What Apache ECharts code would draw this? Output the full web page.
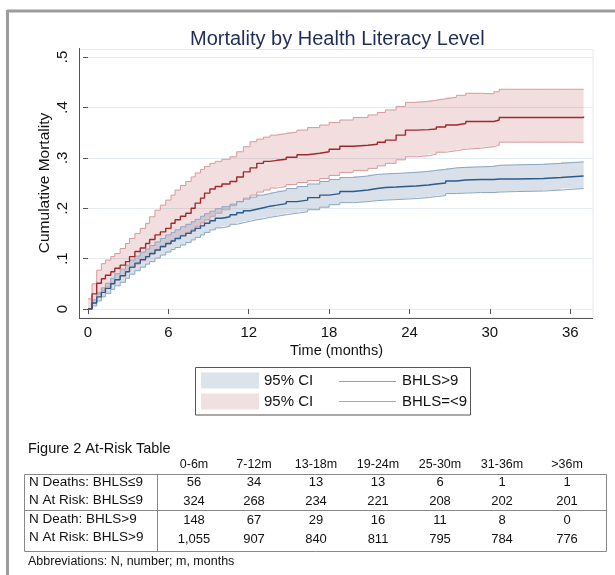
<!DOCTYPE html>
<html><head><meta charset="utf-8">
<script src="https://cdn.jsdelivr.net/npm/echarts@6/dist/echarts.min.js"></script>
<style>html,body{margin:0;padding:0;background:#fff}#c{width:615px;height:575px}</style>
</head><body><div id="c"></div>
<script>
// ---- data ----
const months = [0,0.3,0.65,1.0,1.3,1.7,2.0,2.4,2.8,3.1,3.5,3.9,4.3,4.6,5.0,5.4,5.8,6.2,6.5,6.9,7.3,7.7,8.0,8.4,8.7,9.1,9.5,10.0,10.6,11.1,11.6,12.1,12.6,13.1,13.6,14.1,14.8,15.6,16.4,17.3,18.0,18.8,19.8,20.9,21.6,22.2,23.0,23.7,24.5,25.4,26.0,26.7,27.5,28.2,29.3,30.3,30.7,32.0,34.0,35.3,37.0];
// BHLS=<9 (low literacy)
const lowEst   = [0,0.030,0.051,0.060,0.067,0.074,0.081,0.087,0.094,0.104,0.114,0.121,0.130,0.138,0.147,0.153,0.160,0.170,0.177,0.184,0.190,0.200,0.210,0.220,0.230,0.238,0.243,0.248,0.253,0.262,0.272,0.280,0.289,0.293,0.295,0.297,0.301,0.306,0.309,0.312,0.317,0.323,0.325,0.327,0.331,0.335,0.345,0.355,0.356,0.357,0.361,0.365,0.368,0.372,0.372,0.375,0.380,0.380,0.380,0.380,0.382];
const lowUpper = [0.020,0.050,0.077,0.090,0.097,0.104,0.110,0.120,0.130,0.140,0.150,0.160,0.170,0.183,0.196,0.206,0.216,0.226,0.236,0.245,0.253,0.262,0.270,0.277,0.283,0.289,0.293,0.297,0.302,0.312,0.322,0.332,0.337,0.341,0.345,0.348,0.351,0.355,0.360,0.365,0.370,0.375,0.380,0.385,0.390,0.395,0.402,0.410,0.412,0.414,0.417,0.420,0.424,0.428,0.427,0.431,0.436,0.436,0.436,0.436,0.436];
const lowLower = [0,0.012,0.028,0.037,0.044,0.051,0.058,0.066,0.074,0.082,0.089,0.096,0.103,0.109,0.116,0.123,0.129,0.135,0.140,0.146,0.152,0.158,0.164,0.171,0.177,0.184,0.190,0.197,0.205,0.213,0.220,0.226,0.232,0.236,0.240,0.243,0.247,0.251,0.255,0.259,0.265,0.271,0.275,0.279,0.284,0.289,0.296,0.302,0.304,0.307,0.311,0.314,0.317,0.319,0.322,0.325,0.331,0.331,0.331,0.331,0.331];
// BHLS>9 (adequate literacy)
const highEst   = [0,0.012,0.024,0.033,0.041,0.050,0.058,0.066,0.074,0.083,0.091,0.098,0.104,0.110,0.117,0.124,0.130,0.135,0.140,0.145,0.150,0.155,0.160,0.165,0.170,0.175,0.180,0.183,0.187,0.191,0.195,0.198,0.201,0.204,0.206,0.209,0.213,0.216,0.221,0.226,0.229,0.233,0.236,0.239,0.241,0.242,0.243,0.244,0.246,0.248,0.250,0.254,0.256,0.257,0.257,0.258,0.258,0.259,0.261,0.264,0.264];
const highUpper = [0,0.018,0.032,0.042,0.051,0.061,0.070,0.079,0.087,0.097,0.105,0.113,0.119,0.126,0.133,0.140,0.147,0.152,0.157,0.163,0.168,0.173,0.178,0.184,0.189,0.194,0.199,0.203,0.208,0.213,0.218,0.222,0.226,0.229,0.232,0.235,0.239,0.243,0.248,0.253,0.257,0.261,0.264,0.267,0.268,0.269,0.270,0.271,0.273,0.275,0.277,0.280,0.281,0.282,0.283,0.285,0.286,0.287,0.289,0.292,0.292];
const highLower = [0,0.006,0.016,0.024,0.031,0.039,0.046,0.053,0.061,0.069,0.076,0.083,0.089,0.094,0.101,0.107,0.113,0.118,0.122,0.127,0.132,0.137,0.142,0.147,0.152,0.157,0.161,0.164,0.168,0.171,0.174,0.177,0.179,0.182,0.184,0.187,0.190,0.193,0.197,0.202,0.207,0.211,0.213,0.215,0.216,0.217,0.218,0.219,0.221,0.223,0.225,0.229,0.230,0.231,0.231,0.232,0.233,0.234,0.236,0.239,0.239];
const xTicks = [0,6,12,18,24,30,36];
// at-risk table
const periods    = ['0-6m','7-12m','13-18m','19-24m','25-30m','31-36m','>36m'];
const rowLabels  = ['N Deaths: BHLS\u22649','N At Risk: BHLS\u22649','N Death: BHLS>9','N At Risk: BHLS>9'];
const deathsLow  = [56,34,13,13,6,1,1];
const atRiskLow  = [324,268,234,221,208,202,201];
const deathsHigh = [148,67,29,16,11,8,0];
const atRiskHigh = [1055,907,840,811,795,784,776];

// ---- styles ----
const FONT = 'Liberation Sans, Arial, Helvetica, sans-serif';
const C = {
  blueLine:'#2c5a8a', blueEdge:'#8ba6c2', blueFill:'rgba(120,145,175,0.28)', blueLegendFill:'#dce3eb', blueLegendLine:'#86a2c0',
  redLine:'#a3282d', redEdge:'#d79a9d', redFill:'rgba(190,90,95,0.20)', redLegendFill:'#f1e0e1', redLegendLine:'#d8979a'
};
const pts = arr => months.map((m,i)=>[m, arr[i]]);

function bandSeries(name, lo, hi, fill, z){
  return {
    type:'custom', name: name, z: z, silent:true,
    itemStyle:{color: fill},
    data: months.map((m,i)=>[m, lo[i], hi[i]]),
    encode:{x:0, y:[1,2]},
    renderItem: function(params, api){
      if (params.dataIndex !== 0) return null;
      const up = [], dn = [];
      for (let i=0;i<months.length;i++){
        const xa = months[i], xb = (i+1<months.length)? months[i+1] : months[i];
        up.push(api.coord([xa, hi[i]])); up.push(api.coord([xb, hi[i]]));
        dn.push(api.coord([xa, lo[i]])); dn.push(api.coord([xb, lo[i]]));
      }
      const poly = up.concat(dn.reverse());
      return {type:'polygon', shape:{points: poly}, style:{fill: fill, stroke:null}};
    }
  };
}
function lineSeries(name, arr, color, width, z){
  return {type:'line', name:name, data: pts(arr), step:'end', showSymbol:false, symbol:'none',
    lineStyle:{color:color, width:width}, itemStyle:{color:color}, z:z, silent:true};
}

const series = [
  bandSeries('ciRed', lowLower, lowUpper, C.redFill, 1),
  bandSeries('ciBlue', highLower, highUpper, C.blueFill, 2),
  lineSeries('lowUpper', lowUpper, C.redEdge, 1, 3),
  lineSeries('lowLower', lowLower, C.redEdge, 1, 3),
  lineSeries('highUpper', highUpper, C.blueEdge, 1, 3),
  lineSeries('highLower', highLower, C.blueEdge, 1, 3),
  lineSeries('BHLS=<9', lowEst, C.redLine, 1.4, 4),
  lineSeries('BHLS>9', highEst, C.blueLine, 1.4, 4)
];

// ---- frame + legend box + table graphics ----
const HF = '14.5px ' + FONT;   // table heading
const CF = '12.5px ' + FONT;   // column headers
const LF = '13.5px ' + FONT;   // row labels
const VF = '13px ' + FONT;     // values
const AF = '12.5px ' + FONT;   // footnote
const colX = [194,254,316,378,440,502,567];
const g = [];
g.push({type:'line', shape:{x1:7,y1:11,x2:615,y2:11}, style:{stroke:'#9c9c9c', lineWidth:3}});
g.push({type:'line', shape:{x1:7.5,y1:10,x2:7.5,y2:575}, style:{stroke:'#9c9c9c', lineWidth:3}});
g.push({type:'rect', shape:{x:79.5,y:49.5,width:513.5,height:268.5}, style:{fill:'none', stroke:'#e2eaef', lineWidth:1}, z:-1});
g.push({type:'line', shape:{x1:79.5,y1:48,x2:79.5,y2:318.5}, style:{stroke:'#555', lineWidth:1}, z:10});
g.push({type:'line', shape:{x1:79,y1:318.5,x2:593,y2:318.5}, style:{stroke:'#555', lineWidth:1}, z:10});
g.push({type:'rect', shape:{x:195.5,y:367.5,width:275,height:47.5}, style:{fill:'none', stroke:'#555', lineWidth:1}});
g.push({type:'line', shape:{x1:339,y1:381.5,x2:396,y2:381.5}, style:{stroke:C.blueLegendLine, lineWidth:1}});
g.push({type:'line', shape:{x1:339,y1:401.5,x2:396,y2:401.5}, style:{stroke:C.redLegendLine, lineWidth:1}});
g.push({type:'text', x:28, y:449, style:{text:'Figure 2 At-Risk Table', font:HF, fill:'#111', verticalAlign:'middle'}});
periods.forEach((p,i)=>g.push({type:'text', x:colX[i], y:465, style:{text:p, font:CF, fill:'#111', align:'center', verticalAlign:'middle'}}));
g.push({type:'rect', shape:{x:24.5,y:474.5,width:582,height:77}, style:{fill:'none', stroke:'#888', lineWidth:1}});
g.push({type:'line', shape:{x1:24.5,y1:510.5,x2:606.5,y2:510.5}, style:{stroke:'#888', lineWidth:1}});
g.push({type:'line', shape:{x1:157.5,y1:474.5,x2:157.5,y2:551.5}, style:{stroke:'#888', lineWidth:1}});
const rowY = [482,500,519,537];
const valY = [482,501,520,539];
rowLabels.forEach((t,i)=>g.push({type:'text', x:29, y:rowY[i], style:{text:t, font:LF, fill:'#111', verticalAlign:'middle'}}));
[deathsLow, atRiskLow, deathsHigh, atRiskHigh].forEach((row,r)=>{
  row.forEach((v,i)=>g.push({type:'text', x:colX[i], y:valY[r], style:{text:v.toLocaleString('en-US'), font:VF, fill:'#111', align:'center', verticalAlign:'middle'}}));
});
g.push({type:'text', x:28, y:562, style:{text:'Abbreviations: N, number; m, months', font:AF, fill:'#111', verticalAlign:'middle'}});

const legendBase = {orient:'horizontal', padding:0, selectedMode:false,
  textStyle:{fontSize:15, color:'#111', fontFamily:FONT, lineHeight:16}};
const option = {
  animation:false,
  backgroundColor:'#fff',
  title:{text:'Mortality by Health Literacy Level', left:185, top:24,
    textStyle:{fontSize:20, fontWeight:'normal', color:'#1f2d57', fontFamily:FONT}},
  grid:{left:88, right:22, top:57, bottom:266, containLabel:false},
  xAxis:{type:'value', min:0, max:37.7, interval:6, offset:9,
    name:'Time (months)', nameLocation:'middle', nameGap:25, nameMoveOverlap:false,
    nameTextStyle:{fontSize:14.5, color:'#111', fontFamily:FONT, padding:[0,8,0,0]},
    axisLine:{show:false},
    axisTick:{show:true, length:5, lineStyle:{color:'#555'}, customValues:xTicks},
    axisLabel:{fontSize:15, color:'#111', fontFamily:FONT, margin:7, customValues:xTicks},
    splitLine:{show:false}},
  yAxis:{type:'value', min:0, max:0.5, interval:0.1, offset:9,
    name:'Cumulative Mortality', nameLocation:'middle', nameGap:26, nameMoveOverlap:false,
    nameTextStyle:{fontSize:15.5, color:'#111', fontFamily:FONT},
    axisLine:{show:false},
    axisTick:{show:true, length:5, lineStyle:{color:'#555'}},
    axisLabel:{fontSize:15, color:'#111', fontFamily:FONT, rotate:90, margin:9,
      formatter: v => v===0 ? '0' : String(+v.toFixed(1)).replace(/^0\./,'.')},
    splitLine:{show:true, lineStyle:{color:'#e3ecf0', width:1}}},
  legend:[
    Object.assign({}, legendBase, {left:201, top:372.5, itemWidth:58, itemHeight:16,
      data:[{name:'ciBlue', icon:'rect', itemStyle:{color:C.blueLegendFill}}], formatter:()=>'95% CI'}),
    Object.assign({}, legendBase, {left:201, top:393.5, itemWidth:58, itemHeight:16,
      data:[{name:'ciRed', icon:'rect', itemStyle:{color:C.redLegendFill}}], formatter:()=>'95% CI'}),
    Object.assign({}, legendBase, {left:339, top:372.5, itemWidth:58, itemHeight:16,
      data:[{name:'BHLS>9', icon:'none'}]}),
    Object.assign({}, legendBase, {left:339, top:393.5, itemWidth:58, itemHeight:16,
      data:[{name:'BHLS=<9', icon:'none'}]})
  ],
  graphic: g,
  series: series
};
const chart = echarts.init(document.getElementById('c'), null, {renderer:'canvas'});
chart.setOption(option);
</script></body></html>
